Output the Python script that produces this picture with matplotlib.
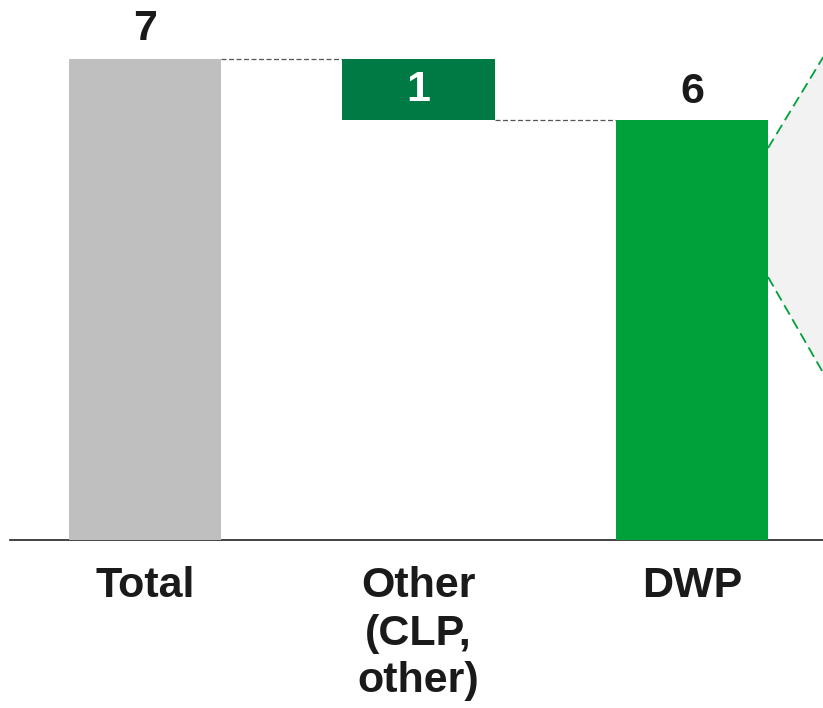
import matplotlib
matplotlib.use("Agg")
import matplotlib.pyplot as plt

plt.rcParams['font.family'] = ['Liberation Sans', 'DejaVu Sans']

# waterfall data
categories = ['Total', 'Other\n(CLP,\nother)', 'DWP']
values = [6.87, 0.87, 6.0]
bottoms = [0, 6.0, 0]
value_labels = ['7', '1', '6']
colors = ['#bfbfbf', '#007a45', '#00a03a']

fig = plt.figure(figsize=(8.23, 7.08), dpi=100)
ax = fig.add_axes([10/823, 168/708, 813/823, 540/708])

xs = list(range(len(categories)))
w = 0.556
ax.bar(xs, values, bottom=bottoms, width=w, color=colors, zorder=3)

# connectors between bars
tops = [b + v for b, v in zip(bottoms, values)]
ax.plot([xs[0] + w/2, xs[1] - w/2], [tops[0], tops[0]], ls=(0, (4, 2)), color='#555555', lw=0.9)
ax.plot([xs[1] + w/2, xs[2] - w/2], [bottoms[1], bottoms[1]], ls=(0, (4, 2)), color='#555555', lw=0.9)

# value labels
fs = 31
ax.text(xs[0], tops[0] + 0.15, value_labels[0], ha='center', va='bottom',
        fontsize=fs, fontweight='bold', color='#1a1a1a')
ax.text(xs[1], bottoms[1] + values[1]/2, value_labels[1], ha='center', va='center',
        fontsize=fs, fontweight='bold', color='white', zorder=4)
ax.text(xs[2], tops[2] + 0.12, value_labels[2], ha='center', va='bottom',
        fontsize=fs, fontweight='bold', color='#1a1a1a')

# zoom-out wedge to the right of DWP
x0 = xs[2] + w/2
x1 = 2.48
ax.fill([x0, x1, x1, x0], [5.6, 6.9, 2.386, 3.757], color='#f2f2f2', zorder=1, lw=0)
ax.plot([x0, x1], [5.6, 6.9], ls=(0, (6, 3)), color='#00a03a', lw=1.3, zorder=2)
ax.plot([x0, x1], [3.757, 2.386], ls=(0, (6, 3)), color='#00a03a', lw=1.3, zorder=2)

ax.set_xlim(-0.4936, 2.479)
ax.set_ylim(0, 540/70)
ax.set_xticks(xs)
ax.set_xticklabels(categories, fontsize=fs, fontweight='bold', color='#1a1a1a',
                   va='top', linespacing=1.23)
ax.tick_params(axis='x', length=0, pad=19)
ax.set_yticks([])
for s in ['top', 'right', 'left']:
    ax.spines[s].set_visible(False)
ax.spines['bottom'].set_color('#222222')
ax.spines['bottom'].set_linewidth(1.2)

fig.savefig('out.png', dpi=100)
